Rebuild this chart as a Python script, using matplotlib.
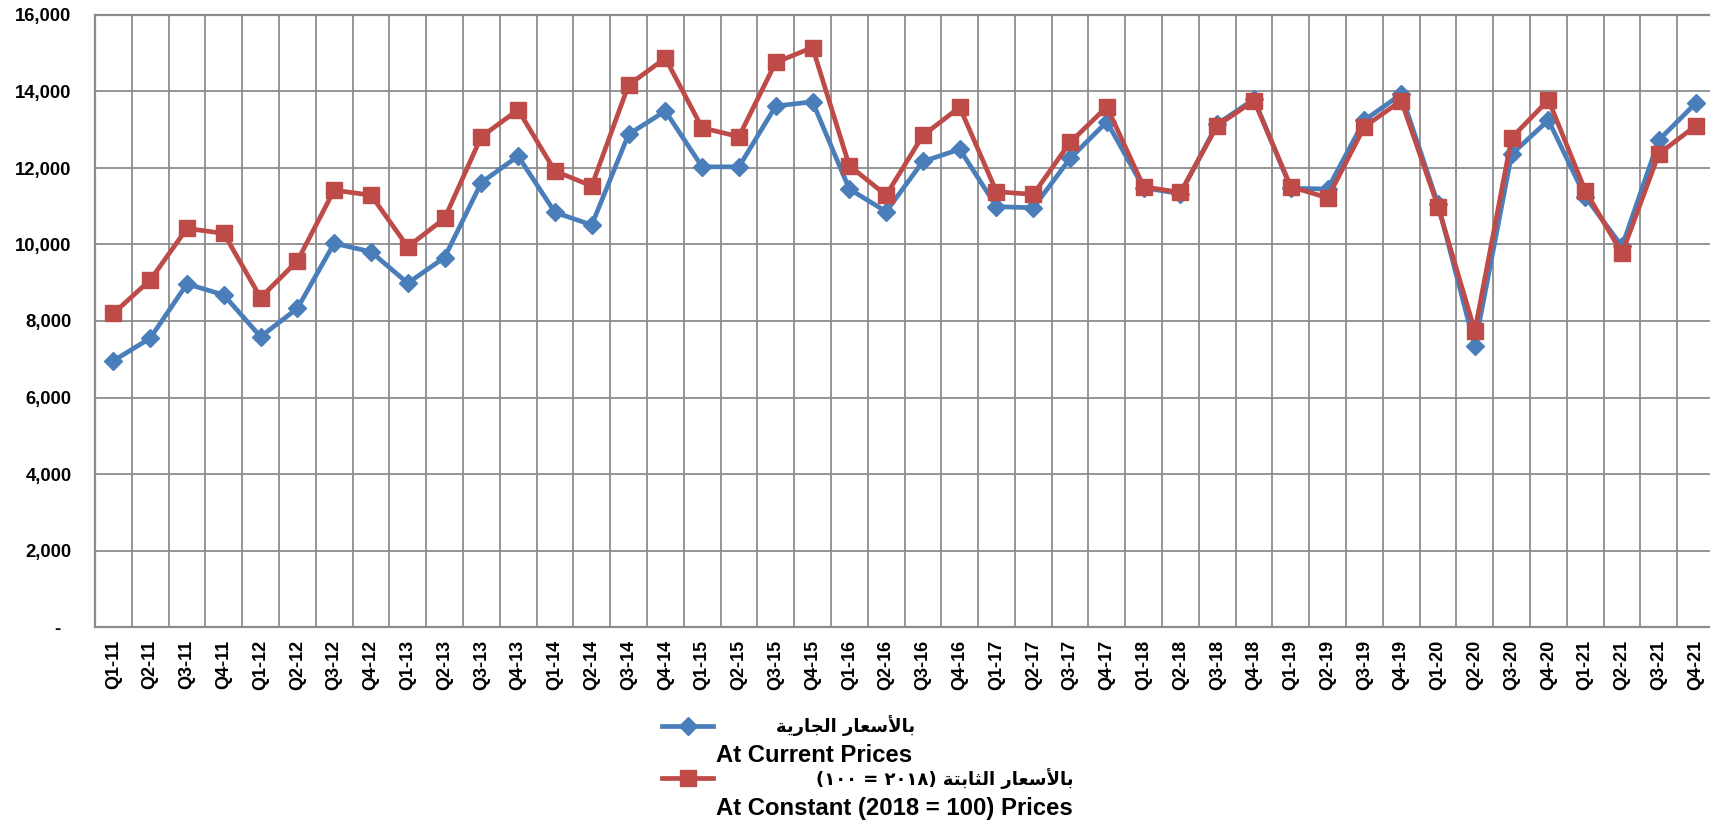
import matplotlib
matplotlib.use("Agg")
import matplotlib.pyplot as plt
from matplotlib.lines import Line2D
import numpy as np

plt.rcParams['font.family'] = ['Liberation Sans', 'DejaVu Sans']
plt.rcParams['font.weight'] = 'bold'

# quarters Q1-11 .. Q4-21
quarters = [f"Q{q}-{y}" for y in range(11, 22) for q in range(1, 5)]

# at current prices (blue)
current = [6960, 7550, 8970, 8680,
           7590, 8330, 10030, 9810,
           8990, 9660, 11620, 12310,
           10840, 10510, 12880, 13490,
           12030, 12030, 13620, 13730,
           11450, 10860, 12170, 12490,
           10990, 10960, 12250, 13210,
           11480, 11330, 13150, 13800,
           11470, 11450, 13250, 13930,
           11050, 7350, 12360, 13250,
           11250, 9950, 12730, 13690]

# at constant (2018 = 100) prices (red)
constant = [8200, 9070, 10420, 10290,
            8610, 9570, 11420, 11290,
            9940, 10680, 12820, 13520,
            11920, 11530, 14170, 14870,
            13050, 12820, 14760, 15150,
            12060, 11290, 12850, 13590,
            11380, 11310, 12670, 13600,
            11510, 11360, 13110, 13760,
            11510, 11220, 13080, 13760,
            10990, 7740, 12790, 13780,
            11410, 9770, 12370, 13100]

yticks = [0, 2000, 4000, 6000, 8000, 10000, 12000, 14000, 16000]
ylabels = ['-  ', '2,000', '4,000', '6,000', '8,000', '10,000', '12,000', '14,000', '16,000']

# arabic labels, pre-shaped (presentation forms, visual order)
ar_current = "\ufe94\ufef3\ufead\ufe8e\ufea0\ufedf\ufe8d \ufead\ufe8e\ufecc\ufeb3\ufef7\ufe8e\ufe91"
ar_constant = "(\u0661\u0660\u0660 = \u0662\u0660\u0661\u0668) " \
              "\ufe94\ufe98\ufe91\ufe8e\ufe9c\ufedf\ufe8d \ufead\ufe8e\ufecc\ufeb3\ufef7\ufe8e\ufe91"
en_current = "At Current Prices"
en_constant = "At Constant (2018 = 100) Prices"

blue = '#4a7ebb'
red = '#be4b48'
gridc = '#8c8c8c'

W, H = 1710, 821
fig = plt.figure(figsize=(W / 100, H / 100), dpi=100)
ax = fig.add_axes([95 / W, 1 - 627 / H, 1619 / W, 612 / H])

x = np.arange(len(quarters))
ax.plot(x, current, color=blue, lw=3.4, marker='D', ms=9.5, mec=blue, zorder=3)
ax.plot(x, constant, color=red, lw=3.4, marker='s', ms=12, mec=red, zorder=4)

ax.set_xlim(-0.5, len(quarters) - 0.5)
ax.set_ylim(0, 16000)
ax.set_yticks(yticks, ylabels)
ax.set_xticks(x, quarters, rotation=90)
ax.set_xticks(np.arange(-0.5, len(quarters), 1), minor=True)

ax.tick_params(axis='y', length=0, pad=17, labelsize=13.3)
ax.tick_params(axis='x', which='both', length=0, pad=9, labelsize=13)
ax.grid(axis='y', which='major', color=gridc, lw=1.3)
ax.grid(axis='x', which='minor', color=gridc, lw=1.3)
ax.set_axisbelow(True)
for s in ax.spines.values():
    s.set_color(gridc)
    s.set_linewidth(1.6)

# legend drawn by hand, like the original
def px(xp, yp):
    return xp / W, 1 - yp / H

for yl, col, mk, ms in [(726, blue, 'D', 9.5), (778, red, 's', 12)]:
    x0, y0 = px(662, yl)
    x1, _ = px(713, yl)
    fig.add_artist(Line2D([x0, x1], [y0, y0], color=col, lw=3.4))
    fig.add_artist(Line2D([(x0 + x1) / 2], [y0], color=col, marker=mk, ms=ms, mec=col))

fig.text(*px(915, 726), ar_current, ha='right', va='center', fontsize=13,
         family=['DejaVu Sans'])
fig.text(*px(716, 755), en_current, ha='left', va='center', fontsize=17.2)
fig.text(*px(1073, 779), ar_constant, ha='right', va='center', fontsize=13,
         family=['DejaVu Sans'])
fig.text(*px(716, 808), en_constant, ha='left', va='center', fontsize=17.2)

fig.savefig("out.png", dpi=100)
